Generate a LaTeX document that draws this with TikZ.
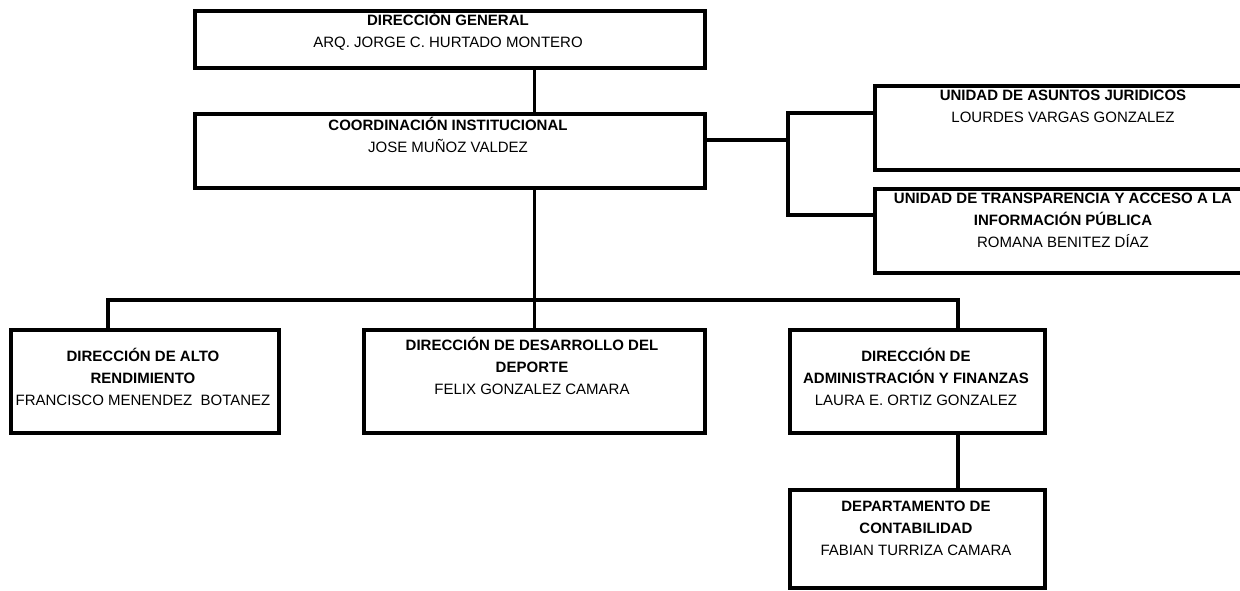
\documentclass[tikz,border=0pt]{standalone}
\usepackage{fontspec}
\setmainfont{Liberation Sans}
\begin{document}
\begin{tikzpicture}[x=0.75pt,y=-0.75pt,
  box/.style 2 args={draw, line width=2.7pt, anchor=north west, inner sep=0pt,
    minimum width=#1*0.75pt, minimum height=#2*0.75pt},
  txt/.style={anchor=base, align=center, inner sep=0pt,
    font=\fontsize{11.25pt}{16.5pt}\selectfont},
  link/.style={line width=2.7pt}]
\clip (0,0) rectangle (1240,590);
% boxes
\node[box={510}{57}]  (dg)    at (193,9)   {};
\node[box={510}{74}]  (ci)    at (193,112) {};
\node[box={380}{84}]  (uaj)   at (873,84)  {};
\node[box={380}{84}]  (utaip) at (873,187) {};
\node[box={268}{103}] (dar)   at (9,328)   {};
\node[box={341}{103}] (ddd)   at (362,328) {};
\node[box={255}{103}] (daf)   at (788,328) {};
\node[box={255}{98}]  (dc)    at (788,488) {};
% texts (anchored at the baseline of their last line)
\node[txt] (tdg) at (448,47) {\textbf{DIRECCIÓN GENERAL}\\ARQ. JORGE C. HURTADO MONTERO};
\node[txt] (tci) at (448,152) {\textbf{COORDINACIÓN INSTITUCIONAL}\\JOSE MUÑOZ VALDEZ};
\node[txt] (tuaj) at (1063,122) {\textbf{UNIDAD DE ASUNTOS JURIDICOS}\\LOURDES VARGAS GONZALEZ};
\node[txt] (tutaip) at (1063,247.5) {\textbf{UNIDAD DE TRANSPARENCIA Y ACCESO A LA}\\\textbf{INFORMACIÓN PÚBLICA}\\ROMANA BENITEZ DÍAZ};
\node[txt] (tdar) at (143,405.5) {\textbf{DIRECCIÓN DE ALTO}\\\textbf{RENDIMIENTO}\\FRANCISCO MENENDEZ~ BOTANEZ};
\node[txt] (tddd) at (532,394.5) {\textbf{DIRECCIÓN DE DESARROLLO DEL}\\\textbf{DEPORTE}\\FELIX GONZALEZ CAMARA};
\node[txt] (tdaf) at (916,405.5) {\textbf{DIRECCIÓN DE}\\\textbf{ADMINISTRACIÓN Y FINANZAS}\\LAURA E. ORTIZ GONZALEZ};
\node[txt] (tdc) at (916,555.5) {\textbf{DEPARTAMENTO DE}\\\textbf{CONTABILIDAD}\\FABIAN TURRIZA CAMARA};
% junction points
\coordinate (k1) at (788,113);
\coordinate (k2) at (788,215);
\coordinate (k)  at (788,140);
\coordinate (jl) at (108,300);
\coordinate (jr) at (958,300);
% connectors
\draw[link] (dg.south -| ddd.north) -- (ci.north -| ddd.north);
\draw[link] (ci.south -| ddd.north) -- (ddd.north);
\draw[link] (k -| ci.east) -- (k);
\draw[link] (k1 -| uaj.west) -- (k1) -- (k2) -- (k2 -| utaip.west);
\draw[link] (jl |- dar.north) -- (jl) -- (jr) -- (jr |- daf.north);
\draw[link] (daf.south -| jr) -- (dc.north -| jr);
\end{tikzpicture}
\end{document}
